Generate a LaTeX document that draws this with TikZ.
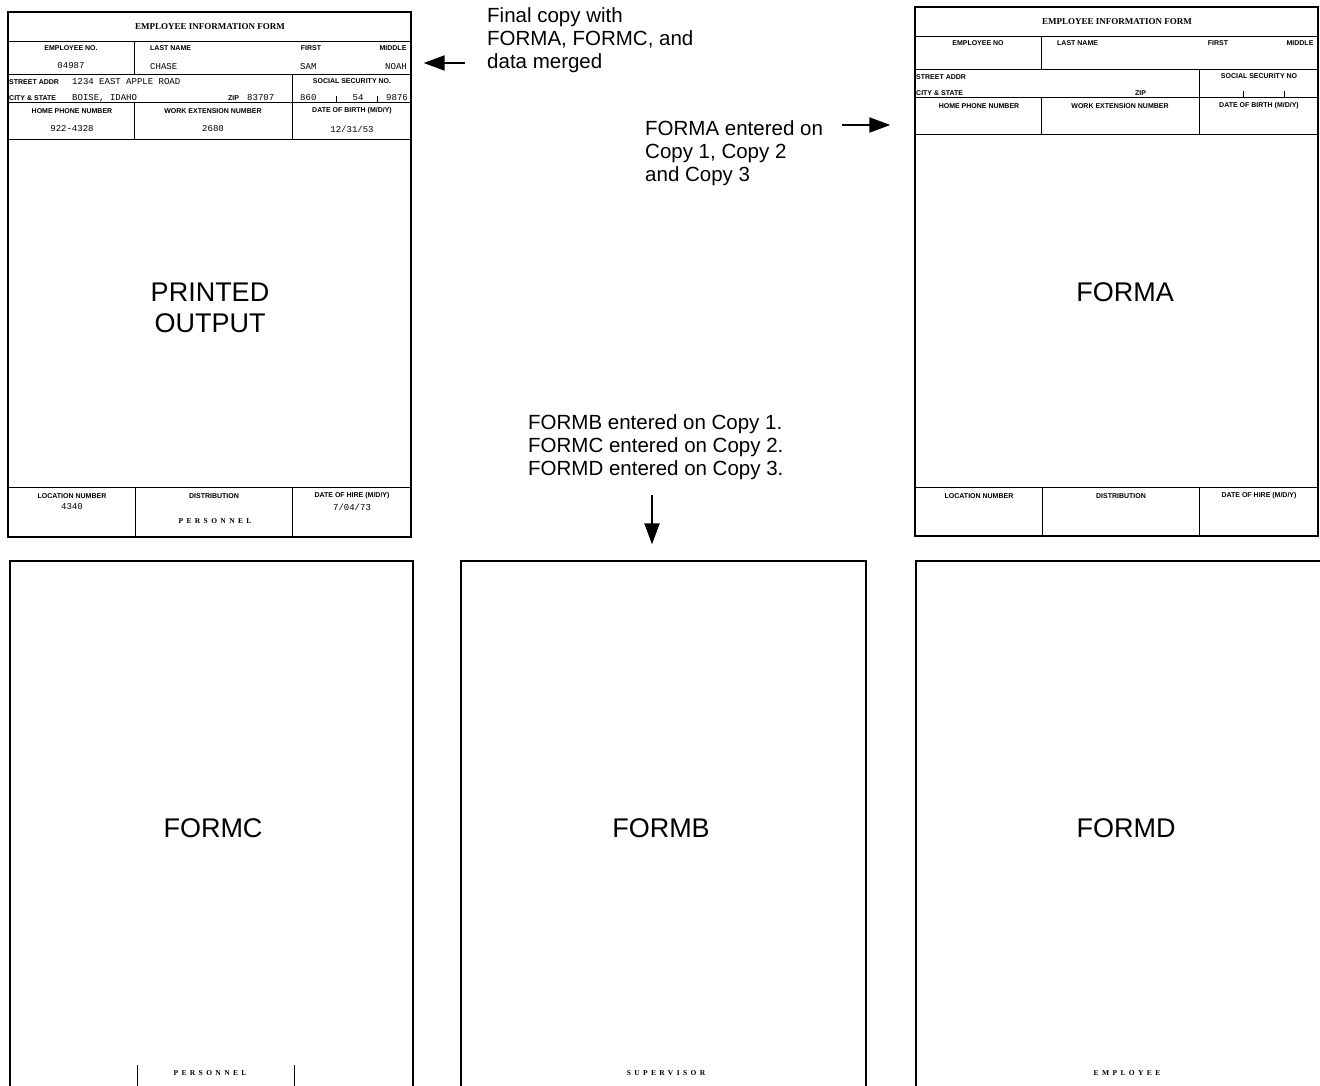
\documentclass[tikz,border=0pt]{standalone}
\usepackage{fontspec}
\setmainfont{Liberation Sans}
\newfontfamily\formserif{Liberation Serif}
\newfontfamily\formmono{Liberation Mono}
\newfontfamily\spacedserif{Liberation Serif}[LetterSpace=45]
\usepackage{tikz}
\usetikzlibrary{positioning,arrows.meta}

\newcommand{\empform}[4]{%
  \begin{scope}[shift={(#2,#3)}]
    \draw[rule] (8,41) -- (411,41) (8,74) -- (411,74) (8,102) -- (411,102) (8,139) -- (411,139);
    \draw[rule] (134,41) -- (134,74) (134,102) -- (134,139) (292,74) -- (292,139);
    \draw[rule] (336,96) -- (336,102) (377,96) -- (377,102);
    \node[formtitle] (#1-title) at (210,27) {EMPLOYEE INFORMATION FORM};
    \node[fieldlab] (#1-empno) at (71,48) {EMPLOYEE NO#4};
    \node[fieldlab, anchor=west] (#1-last) at (150,48) {LAST NAME};
    \node[fieldlab] (#1-first) at (311,48) {FIRST};
    \node[fieldlab] (#1-middle) at (393,48) {MIDDLE};
    \node[fieldlab, anchor=west] (#1-street) at (9,82) {STREET ADDR};
    \node[fieldlab, anchor=west] (#1-city) at (9,98) {CITY \& STATE};
    \node[fieldlab, anchor=west] (#1-zip) at (228,98) {ZIP};
    \node[fieldlab] (#1-ssn) at (352,81) {SOCIAL SECURITY NO#4};
    \node[fieldlab] (#1-phone) at (72,111) {HOME PHONE NUMBER};
    \node[fieldlab] (#1-ext) at (213,111) {WORK EXTENSION NUMBER};
    \node[fieldlab] (#1-birth) at (352,111) {DATE OF BIRTH (M/D/Y)};
  \end{scope}
  \begin{scope}[shift={(#2,0)}]
    \draw[rule] (8,487) -- (411,487) (135,487) -- (135,536) (292,487) -- (292,536);
    \node[fieldlab] (#1-loc) at (72,496) {LOCATION NUMBER};
    \node[fieldlab] (#1-dist) at (214,496) {DISTRIBUTION};
    \node[fieldlab] (#1-hire) at (352,496) {DATE OF HIRE (M/D/Y)};
  \end{scope}}

\begin{document}
\begin{tikzpicture}[
  x=1pt, y=-1pt,
  frame/.style={draw, line width=1.3pt, inner sep=0pt},
  rule/.style={line width=0.9pt},
  formtitle/.style={font=\formserif\bfseries\fontsize{9}{10}\selectfont, inner sep=0pt},
  fieldlab/.style={font=\bfseries\fontsize{7}{8}\selectfont, inner sep=0pt},
  entry/.style={font=\formmono\fontsize{9}{10}\selectfont, inner sep=0pt},
  copyname/.style={font=\spacedserif\bfseries\fontsize{7.5}{8}\selectfont, inner sep=0pt},
  bigname/.style={font=\fontsize{27}{31}\selectfont, align=center, inner sep=0pt},
  note/.style={font=\fontsize{20.5}{23}\selectfont, align=left, inner sep=0pt, anchor=west},
  arr/.style={-{Triangle[length=21pt,width=15pt]}, line width=2pt},
]
\useasboundingbox (0,0) rectangle (1320,1086);
\clip (0,0) rectangle (1320,1086);

\node[frame, minimum width=403pt, minimum height=525pt] (printed) at (209.5,274.5) {};
\node[frame, minimum width=403pt, minimum height=529pt] (forma) at (1116.5,271.5) {};
\node[frame, minimum width=403pt, minimum height=540pt] (formc) at (211.5,831) {};
\node[frame, minimum width=405pt, minimum height=540pt] (formb) at (663.5,831) {};
\node[frame, minimum width=406pt, minimum height=540pt] (formd) at (1119,831) {};

\empform{out}{0}{0}{.}
\empform{fa}{907}{-5}{}

\node[entry] (v-empno) at (71,66) {04987};
\node[entry, anchor=west] (v-last) at (150,67) {CHASE};
\node[entry, anchor=west] (v-first) at (300,67) {SAM};
\node[entry, anchor=east] (v-middle) at (407,67) {NOAH};
\node[entry, anchor=west] (v-street) at (72,82) {1234 EAST APPLE ROAD};
\node[entry, anchor=west] (v-city) at (72,98) {BOISE, IDAHO};
\node[entry, anchor=west] (v-zip) at (247,98) {83707};
\node[entry, anchor=west] (v-ssn1) at (300,98) {860};
\node[entry] (v-ssn2) at (358,98) {54};
\node[entry, anchor=east] (v-ssn3) at (408,98) {9876};
\node[entry] (v-phone) at (72,129) {922-4328};
\node[entry] (v-ext) at (213,129) {2680};
\node[entry] (v-birth) at (352,129) {12/31/53};
\node[entry] (v-loc) at (72,507) {4340};
\node[entry] (v-hire) at (352,507) {7/04/73};
\node[copyname] (v-dist) at (215,521) {PERSONNEL};

\node[bigname] (printedlab) at (210,307.5) {PRINTED\\OUTPUT};
\node[bigname] (formalab) at (1125,292) {FORMA};
\node[bigname] (formclab) at (213,828) {FORMC};
\node[bigname] (formblab) at (661,828) {FORMB};
\node[bigname] (formdlab) at (1126,828) {FORMD};

\node[copyname] (c-personnel) at (210,1073) {PERSONNEL};
\draw[rule] (137,1065) -- (137,1090) (294,1065) -- (294,1090);
\node[copyname] (c-supervisor) at (666,1073) {SUPERVISOR};
\node[copyname] (c-employee) at (1127,1073) {EMPLOYEE};

\node[note] (mergenote) at (487,40) {Final copy with\\FORMA, FORMC, and\\data merged};
\coordinate (mergefrom) at (465,63);
\draw[arr, shorten >=12pt] (mergefrom) -- (mergefrom -| printed.east);

\node[note] (formanote) at (645,153) {FORMA entered on\\Copy 1, Copy 2\\and Copy 3};
\coordinate (formafrom) at (842,125);
\draw[arr, shorten >=24pt] (formafrom) -- (formafrom -| forma.west);

\node[note] (copynote) at (528,447) {FORMB entered on Copy 1.\\FORMC entered on Copy 2.\\FORMD entered on Copy 3.};
\coordinate (copyfrom) at (652,495);
\draw[arr, shorten >=16pt] (copyfrom) -- (copyfrom |- formb.north);
\end{tikzpicture}
\end{document}
